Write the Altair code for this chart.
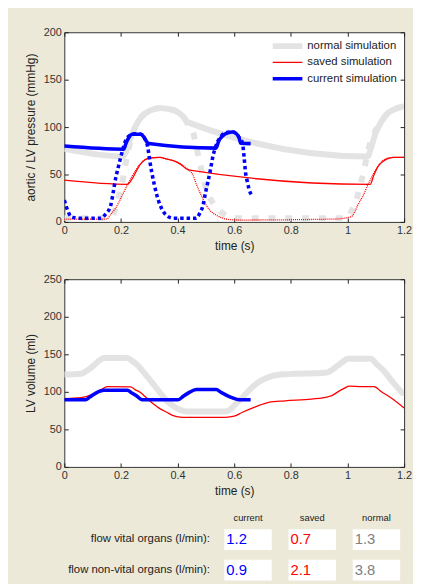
import altair as alt
import pandas as pd

# ---------------- data ----------------
series_names = ["normal simulation", "saved simulation", "current simulation"]
series_colors = ["#E3E3E3", "#FF0000", "#0000FF"]
series_widths = [6, 1.3, 3.6]

x_ticks = [0, 0.2, 0.4, 0.6, 0.8, 1.0, 1.2]
p_ticks = [0, 50, 100, 150, 200]
v_ticks = [0, 50, 100, 150, 200, 250]

# aortic / LV pressure (mmHg)
normal_aortic_t = [0, 0.205, 0.215, 0.23, 0.25, 0.27, 0.3, 0.338, 0.37, 0.4, 0.42, 0.437,
                   1.071, 1.085, 1.1, 1.12, 1.14, 1.164, 1.2]
normal_aortic_p = [77, 69, 72, 85, 100, 110, 117, 120, 119, 116, 111, 105,
                   69, 80, 94, 106, 114, 118.5, 122]
normal_lv_t = [0, 0.16, 0.17, 0.181, 0.193, 0.205, 0.222, 0.235, 0.25, 0.27, 0.3, 0.338, 0.37,
               0.4, 0.42, 0.444, 0.455, 0.466, 0.478, 0.49, 0.501, 0.515, 0.536, 0.56, 0.582,
               0.61, 1.0, 1.013, 1.025, 1.036, 1.048, 1.059, 1.068, 1.077, 1.09, 1.1, 1.12,
               1.14, 1.164, 1.2]
normal_lv_p = [4, 4, 7, 14, 27, 42, 70, 86, 100, 110, 117, 120, 119,
               116, 111, 99, 94, 80, 63, 48, 35, 25, 16, 9, 5.5,
               4, 4, 10.7, 18, 28, 42, 56, 68, 80, 90, 97, 106,
               114, 118.5, 122]

saved_aortic_t = [0, 0.222, 0.232, 0.24, 0.255, 0.269, 0.285, 0.303, 0.338, 0.36, 0.385, 0.41,
                  0.437, 1.08, 1.094, 1.106, 1.118, 1.129, 1.145, 1.164, 1.2]
saved_aortic_p = [44, 39.6, 42, 45.5, 54, 61, 65.5, 67.4, 68, 66.5, 64.6, 61,
                  55, 39.5, 50, 57.6, 62, 64.6, 67, 68, 68]
saved_lv_t = [0, 0.15, 0.164, 0.18, 0.193, 0.208, 0.222, 0.237, 0.251, 0.265, 0.28, 0.303,
              0.338, 0.36, 0.385, 0.41, 0.431, 0.443, 0.455, 0.466, 0.478, 0.49, 0.501,
              0.515, 0.536, 0.56, 0.582, 0.62, 0.95, 0.99, 1.013, 1.025, 1.036, 1.048,
              1.059, 1.07, 1.082, 1.094, 1.106, 1.118, 1.129, 1.145, 1.164, 1.2]
saved_lv_p = [3, 3, 8, 14, 21, 30, 38.5, 47, 54, 60, 64.6, 67.4,
              68, 66.5, 64.6, 61, 57, 54, 49, 40, 31.6, 24, 17.7,
              12, 7.3, 4, 2.5, 2, 3, 4, 5.5, 10, 17.7, 24,
              30, 38, 45, 52, 58, 62.5, 65.6, 67.5, 68, 68]

current_aortic_t = [0, 0.21, 0.218, 0.228, 0.24, 0.27, 0.28, 0.29, 0.298, 0.536, 0.545, 0.56,
                    0.578, 0.594, 0.608, 0.618, 0.623, 0.658]
current_aortic_p = [80, 76.7, 83, 89, 92.4, 92.4, 90, 85, 82.6, 77.8, 85, 91,
                    94, 94.8, 93, 88, 83, 82.6]
current_lv_t = [0, 0.012, 0.024, 0.05, 0.129, 0.145, 0.164, 0.172, 0.181, 0.19, 0.199, 0.208,
                0.216, 0.233, 0.25, 0.27, 0.28, 0.287, 0.294, 0.301, 0.309, 0.318, 0.327,
                0.338, 0.35, 0.365, 0.385, 0.466, 0.478, 0.49, 0.498, 0.507, 0.516, 0.524,
                0.533, 0.542, 0.553, 0.565, 0.594, 0.61, 0.62, 0.629, 0.635, 0.64, 0.646,
                0.652, 0.662]
current_lv_p = [23, 12, 5.5, 3.8, 3.8, 8, 17.7, 30, 45.5, 57, 68, 78,
                85.4, 91.4, 93, 92.5, 90, 86, 80, 66, 52, 39, 28,
                18, 10.7, 6, 3.8, 3.8, 9, 17.7, 30, 42, 55, 68,
                78, 85, 90, 93.4, 95, 92, 88, 83.7, 68, 52, 43,
                35, 28]

# LV volume (ml)
normal_vol_t = [0, 0.059, 0.075, 0.094, 0.115, 0.14, 0.222, 0.24, 0.257, 0.285, 0.315, 0.34,
                0.362, 0.385, 0.408, 0.43, 0.57, 0.585, 0.606, 0.629, 0.65, 0.675, 0.7, 0.733,
                0.78, 0.814, 0.92, 0.94, 0.955, 0.98, 1.002, 1.083, 1.1, 1.129, 1.16, 1.2]
normal_vol_v = [123, 124, 127, 132, 139, 145, 145, 141, 136, 124, 110, 98,
                88, 81, 76, 73.7, 73.7, 76, 84, 92.5, 101, 110, 116, 121,
                123.5, 124, 125.4, 128, 132, 139, 144, 144, 138, 127.6, 113, 96]
saved_vol_t = [0, 0.059, 0.08, 0.106, 0.13, 0.152, 0.234, 0.25, 0.269, 0.29, 0.315, 0.34,
               0.362, 0.38, 0.397, 0.42, 0.57, 0.6, 0.629, 0.675, 0.722, 0.78, 0.873, 0.931,
               0.95, 0.966, 0.99, 1.007, 1.05, 1.094, 1.12, 1.152, 1.2]
saved_vol_v = [91, 92.3, 94, 97.8, 103, 107, 106.6, 103, 99, 92, 83.8, 77,
               72.8, 69, 67, 66, 66, 67.5, 72.8, 80, 86, 88, 90.3, 93.4,
               96, 100, 105, 107.5, 107, 107, 100, 92.5, 78.5]
current_vol_t = [0, 0.075, 0.09, 0.11, 0.14, 0.222, 0.24, 0.257, 0.274, 0.402, 0.42, 0.44,
                 0.466, 0.536, 0.555, 0.575, 0.594, 0.617, 0.658]
current_vol_v = [89.5, 89.5, 93, 98, 102, 102, 98, 94, 89.5, 89.5, 94, 99,
                 103, 103, 99, 95, 92, 89.5, 89.5]

# flow table
table_cols = ["current", "saved", "normal"]
table_rows = ["flow vital organs (l/min):", "flow non-vital organs (l/min):"]
table_values = [["1.2", "0.7", "1.3"], ["0.9", "2.1", "3.8"]]
table_colors = ["#0000FF", "#FF0000", "#808080"]

# ---------------- layout constants ----------------
W = 344
H_TOP = 192
H_BOT = 190
BEIGE = "#ECE9D8"
FONT = "Liberation Sans"


def frame(t, v, name):
    return pd.DataFrame({"t": t, "v": v, "series": name})


def axes(kind, H):
    """kind 0: labelled axes, 1: inward ticks bottom/left, 2: inward ticks top/right"""
    if kind == 0:
        return (
            dict(values=x_ticks, format=".1~f", labelFlush=False, ticks=False, domain=False,
                 grid=False, title="time (s)", labelPadding=3, titlePadding=5),
            dict(ticks=False, domain=False, grid=False, labelPadding=3, titlePadding=6),
        )
    if kind == 1:
        return (
            dict(orient="top", offset=-H, values=x_ticks, labels=False, domain=False,
                 grid=False, tickSize=4, title=None),
            dict(orient="right", offset=-W, labels=False, domain=False, grid=False,
                 tickSize=4, title=None, minExtent=0),
        )
    return (
        dict(orient="bottom", offset=-H, values=x_ticks, labels=False, domain=False,
             grid=False, tickSize=4, title=None),
        dict(orient="left", offset=-W, labels=False, domain=False, grid=False,
             tickSize=4, title=None, minExtent=0),
    )


legend = alt.Legend(
    title=None, orient="none", legendX=208, legendY=6, symbolType="stroke",
    symbolSize=900, labelFontSize=11.5, labelFont=FONT, labelColor="#222",
    labelOffset=2, clipHeight=16, rowPadding=0.5, padding=0,
)
color_enc = alt.Color("series:N", scale=alt.Scale(domain=series_names, range=series_colors),
                      legend=legend)
width_enc = alt.StrokeWidth("series:N",
                            scale=alt.Scale(type="ordinal", domain=series_names,
                                            range=series_widths),
                            legend=legend)


def top_layer(df, dash, axkind):
    if axkind is None:
        ax, ay = None, None
    else:
        xa, ya = axes(axkind, H_TOP)
        ax = alt.Axis(**xa)
        if axkind == 0:
            ay = alt.Axis(values=p_ticks, title="aortic / LV pressure (mmHg)", **ya)
        else:
            ay = alt.Axis(values=p_ticks, **ya)
    kw = dict(interpolate="monotone", clip=True)
    if dash is not None:
        kw["strokeDash"] = dash
    return alt.Chart(df).mark_line(**kw).encode(
        x=alt.X("t:Q", scale=alt.Scale(domain=[0, 1.2], nice=False), axis=ax),
        y=alt.Y("v:Q", scale=alt.Scale(domain=[0, 200], nice=False), axis=ay),
        color=color_enc,
        strokeWidth=width_enc,
        order=alt.Order("t:Q"),
    )


top = alt.layer(
    top_layer(frame(normal_lv_t, normal_lv_p, series_names[0]), [7, 10], 0),
    top_layer(frame(normal_aortic_t, normal_aortic_p, series_names[0]), None, 1),
    top_layer(frame(saved_aortic_t, saved_aortic_p, series_names[1]), None, 2),
    top_layer(frame(saved_lv_t, saved_lv_p, series_names[1]), [1, 1], None),
    top_layer(frame(current_aortic_t, current_aortic_p, series_names[2]), None, None),
    top_layer(frame(current_lv_t, current_lv_p, series_names[2]), [3.5, 3], None),
).resolve_axis(x="independent", y="independent").properties(
    width=W, height=H_TOP,
    view=alt.ViewBackground(fill="white", stroke="#333", strokeWidth=1),
)


def bot_layer(df, color, width, axkind):
    if axkind is None:
        ax, ay = None, None
    else:
        xa, ya = axes(axkind, H_BOT)
        ax = alt.Axis(**xa)
        if axkind == 0:
            ay = alt.Axis(values=v_ticks, title="LV volume (ml)", **ya)
        else:
            ay = alt.Axis(values=v_ticks, **ya)
    return alt.Chart(df).mark_line(interpolate="monotone", color=color,
                                   strokeWidth=width, clip=True).encode(
        x=alt.X("t:Q", scale=alt.Scale(domain=[0, 1.2], nice=False), axis=ax),
        y=alt.Y("v:Q", scale=alt.Scale(domain=[0, 250], nice=False), axis=ay),
        order=alt.Order("t:Q"),
    )


bottom = alt.layer(
    bot_layer(frame(normal_vol_t, normal_vol_v, series_names[0]), series_colors[0], 6, 0),
    bot_layer(frame(saved_vol_t, saved_vol_v, series_names[1]), series_colors[1], 1.3, 1),
    bot_layer(frame(current_vol_t, current_vol_v, series_names[2]), series_colors[2], 3.6, 2),
).resolve_axis(x="independent", y="independent").properties(
    width=W, height=H_BOT,
    view=alt.ViewBackground(fill="white", stroke="#333", strokeWidth=1),
)

# ---------------- table ----------------
cells = pd.DataFrame([
    {"col": c, "row": r, "val": table_values[i][j], "color": table_colors[j]}
    for i, r in enumerate(table_rows) for j, c in enumerate(table_cols)
])
heads = pd.DataFrame({"col": table_cols})
rows = pd.DataFrame({"row": table_rows})

xs = alt.Scale(domain=table_cols, range=[162, 340], paddingInner=17 / 65, paddingOuter=0)
ys = alt.Scale(domain=table_rows, range=[17, 69], paddingInner=10 / 31, paddingOuter=0)

boxes = alt.Chart(cells).mark_rect(fill="white").encode(
    x=alt.X("col:N", scale=xs, axis=None),
    y=alt.Y("row:N", scale=ys, axis=None),
)
vals = alt.Chart(cells).mark_text(align="left", baseline="middle", dx=2, fontSize=15,
                                  font=FONT).encode(
    x=alt.X("col:N", scale=xs, axis=None, bandPosition=0),
    y=alt.Y("row:N", scale=ys, axis=None),
    color=alt.Color("color:N", scale=None),
    text="val:N",
)
head_text = alt.Chart(heads).mark_text(baseline="middle", fontSize=9.5, font=FONT,
                                       color="#222").encode(
    x=alt.X("col:N", scale=xs, axis=None),
    y=alt.value(6),
    text="col:N",
)
row_text = alt.Chart(rows).mark_text(align="right", baseline="middle", fontSize=11.5,
                                     font=FONT, color="#222").encode(
    x=alt.value(147.5),
    y=alt.Y("row:N", scale=ys, axis=None),
    text="row:N",
)
table = alt.layer(boxes, vals, head_text, row_text).properties(
    width=W, height=70,
    view=alt.ViewBackground(fill="transparent", stroke="transparent"),
)

plots = alt.vconcat(top, bottom, spacing=20)
chart = alt.vconcat(plots, table, spacing=14).resolve_scale(
    color="independent", strokeWidth="independent"
).properties(
    background=BEIGE,
    padding={"left": 16, "top": 14, "right": 0, "bottom": 0},
).configure(font=FONT).configure_view(stroke="transparent").configure_axis(
    labelFont=FONT, labelFontSize=11, labelColor="#333",
    titleFont=FONT, titleFontSize=12, titleFontWeight="normal", titleColor="#222",
    tickColor="#222",
)

chart.save("out.html", embed_options={"renderer": "svg", "actions": False})
